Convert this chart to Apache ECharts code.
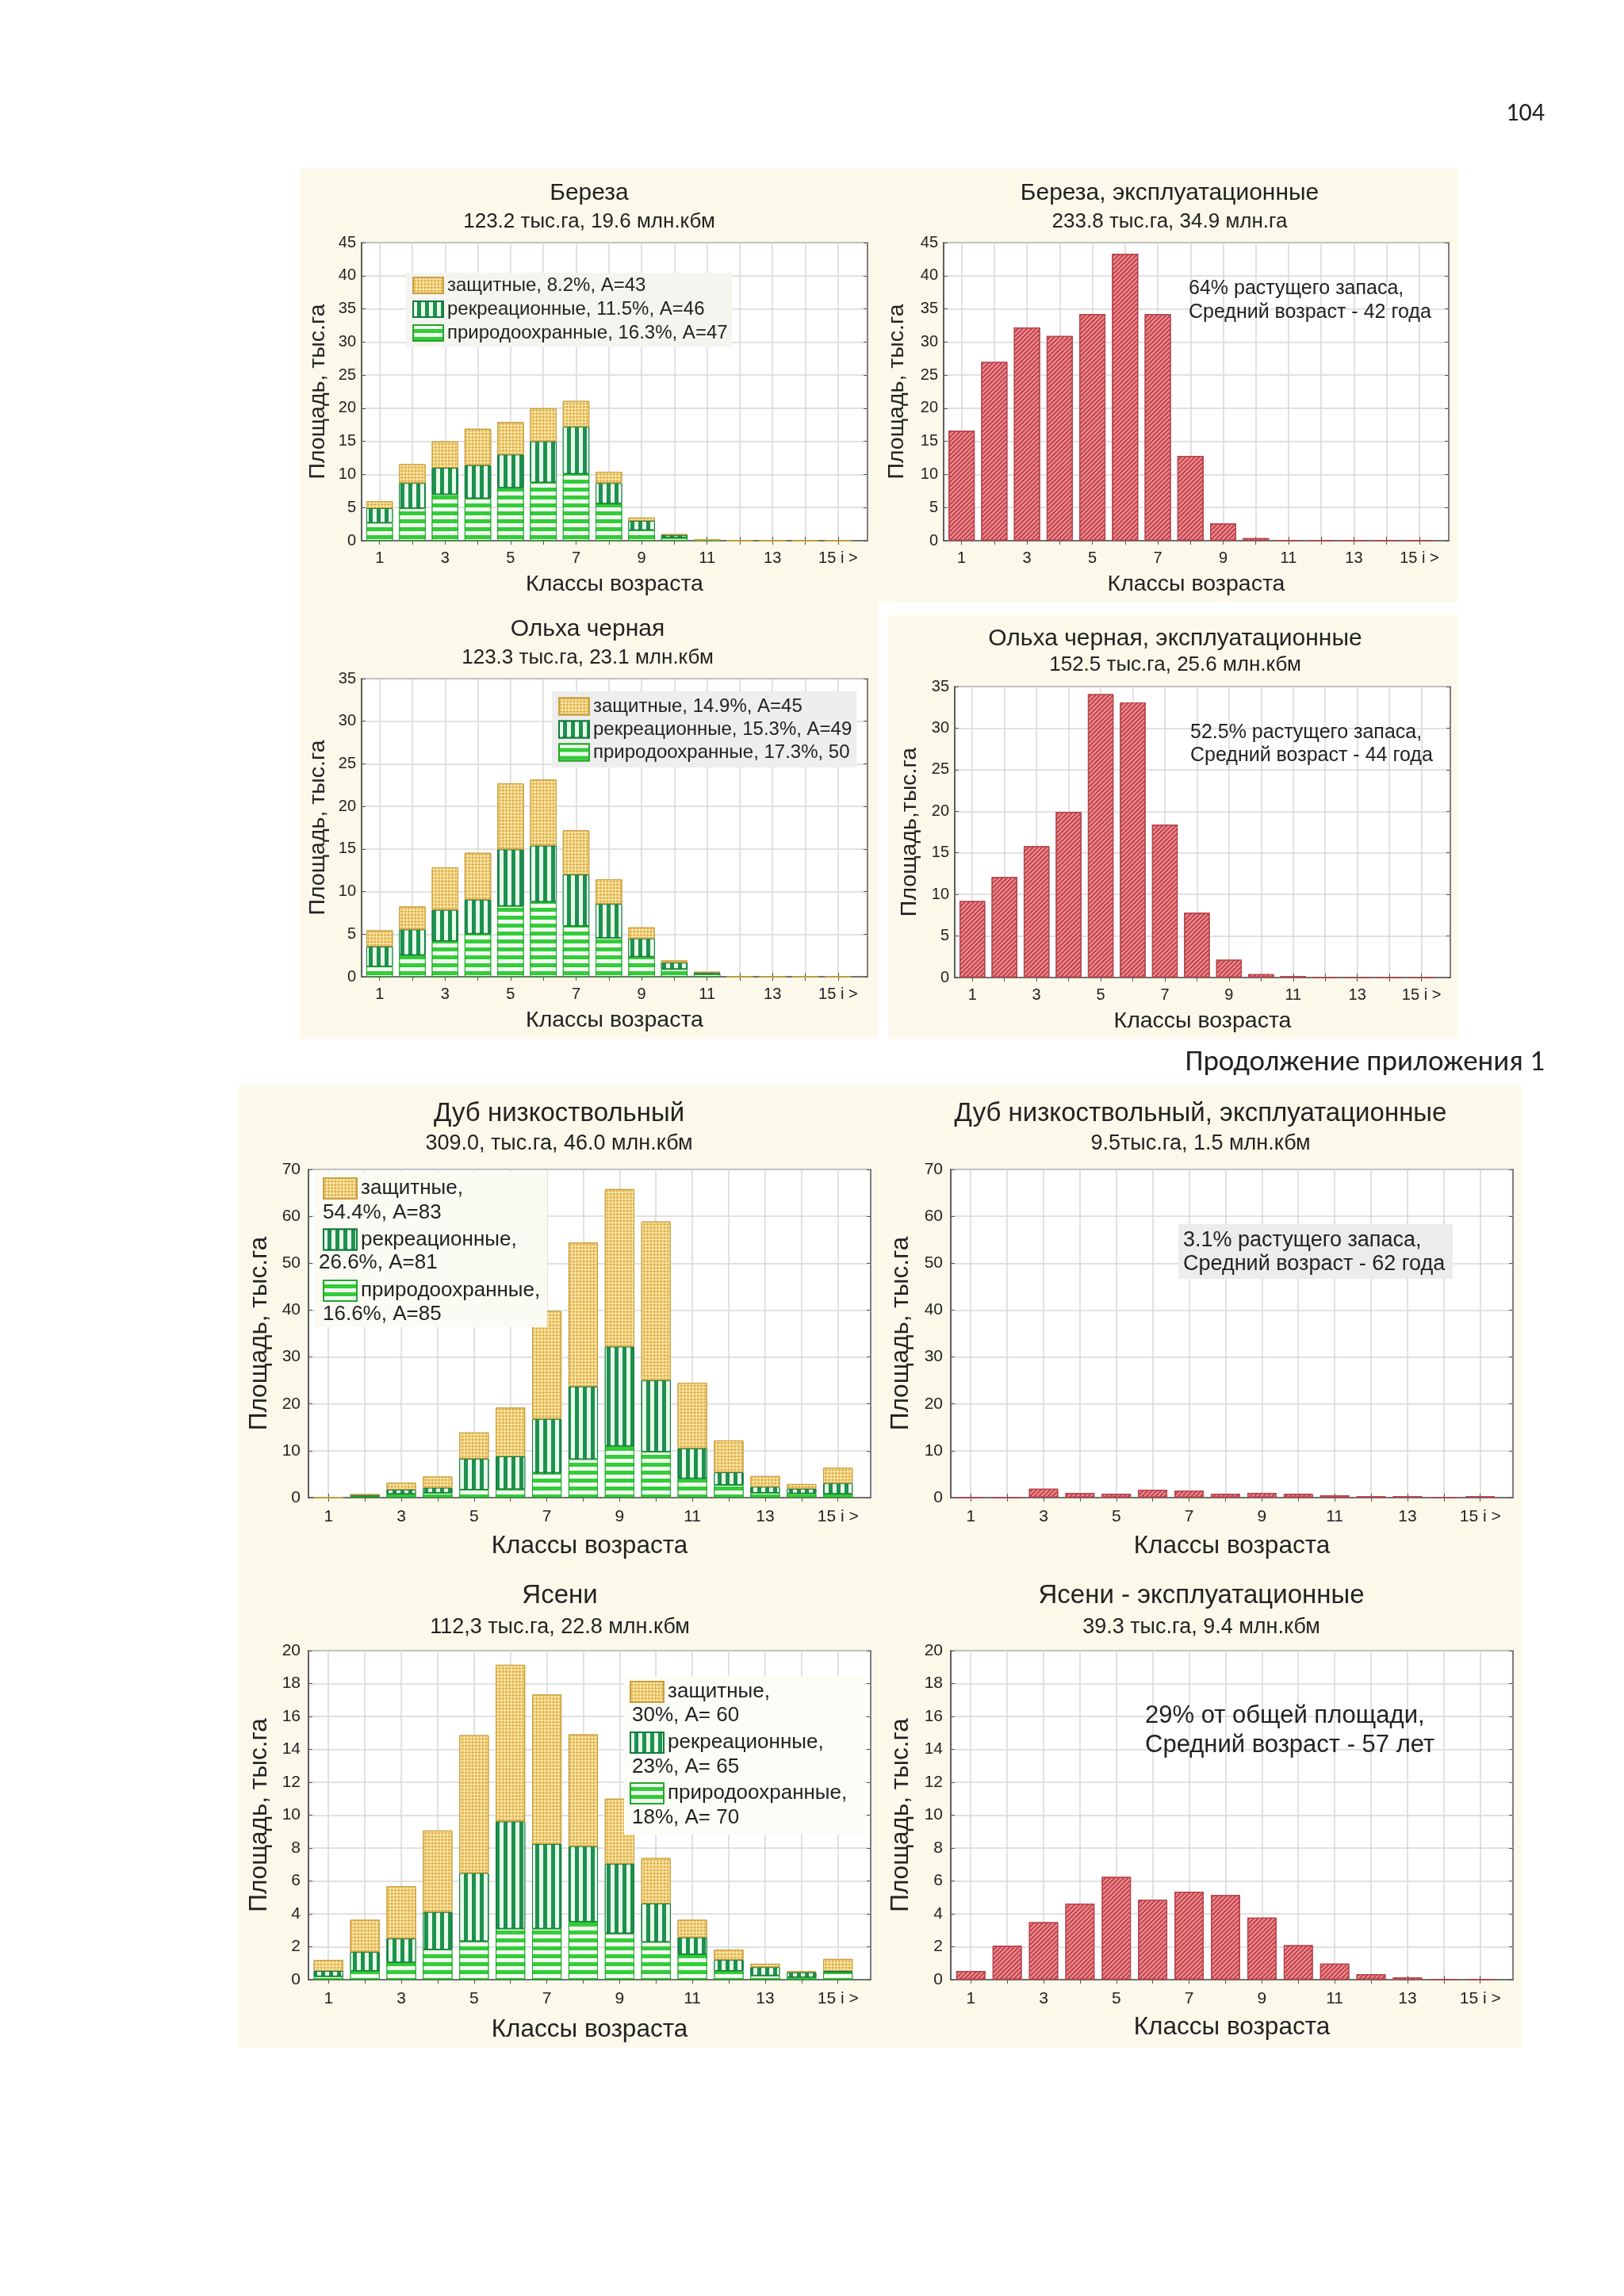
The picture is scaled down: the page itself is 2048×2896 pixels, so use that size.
<!DOCTYPE html>
<html>
<head>
<meta charset="utf-8">
<script src="https://cdn.jsdelivr.net/npm/echarts@6/dist/echarts.min.js"></script>
<style>
html,body{margin:0;padding:0;background:#ffffff;}
#c{width:2048px;height:2896px;}
</style>
</head>
<body>
<div id="c"></div>
<script>
// ---------------- DATA ----------------
const ageClasses = [1,2,3,4,5,6,7,8,9,10,11,12,13,14,15];
const ageLabelValues = [1,3,5,7,9,11,13,15];
const lastClassLabel = '15 i >';
const xAxisTitle = 'Классы возраста';
const yAxisTitle = 'Площадь, тыс.га';
const yAxisTitleNoSpace = 'Площадь,тыс.га';

// Береза (stacked)
const berezaNature   = [2.7, 4.9, 7.0, 6.4, 8.0, 8.8, 10.1, 5.6, 1.6, 0.5, 0.05, 0, 0, 0, 0];
const berezaRecreate = [2.2, 3.8, 4.0, 5.0, 5.0, 6.2, 7.1, 3.1, 1.4, 0.35, 0.05, 0, 0, 0, 0];
const berezaProtect  = [1.05, 2.85, 4.0, 5.5, 4.9, 5.0, 3.9, 1.7, 0.5, 0.15, 0.05, 0, 0, 0, 0];
const berezaNames = ['защитные, 8.2%, A=43', 'рекреационные, 11.5%, A=46', 'природоохранные, 16.3%, A=47'];

// Береза, эксплуатационные
const berezaExpl = [16.6, 27.0, 32.2, 30.9, 34.2, 43.3, 34.2, 12.8, 2.6, 0.4, 0, 0, 0, 0, 0];

// Ольха черная (stacked)
const olkhaNature   = [1.2, 2.55, 4.2, 5.05, 8.3, 8.8, 5.95, 4.55, 2.35, 0.9, 0.33, 0, 0, 0, 0];
const olkhaRecreate = [2.35, 3.0, 3.65, 4.0, 6.65, 6.6, 6.05, 4.0, 2.15, 0.75, 0.17, 0, 0, 0, 0];
const olkhaProtect  = [1.9, 2.7, 5.0, 5.5, 7.75, 7.75, 5.2, 2.9, 1.3, 0.27, 0.07, 0, 0, 0, 0];
const olkhaNames = ['защитные, 14.9%, A=45', 'рекреационные, 15.3%, A=49', 'природоохранные, 17.3%, 50'];

// Ольха черная, эксплуатационные
const olkhaExpl = [9.2, 12.1, 15.8, 19.9, 34.1, 33.1, 18.4, 7.8, 2.15, 0.4, 0.17, 0, 0, 0, 0];

// Дуб низкоствольный (stacked)
const dubNature   = [0, 0.3, 0.8, 1.0, 1.7, 1.8, 5.3, 8.2, 11.0, 9.8, 4.1, 2.7, 1.0, 0.9, 0.8];
const dubRecreate = [0, 0.3, 0.9, 1.1, 6.6, 7.0, 11.5, 15.5, 21.2, 15.2, 6.4, 2.7, 1.3, 1.0, 2.3];
const dubProtect  = [0, 0.1, 1.5, 2.4, 5.6, 10.4, 23.0, 30.7, 33.6, 33.9, 14.0, 6.8, 2.3, 1.0, 3.3];
const dubNames = ['защитные, ', 'рекреационные, ', 'природоохранные, '];
const dubNames2 = ['54.4%, A=83', '26.6%, A=81', '16.6%, A=85'];

// Дуб низкоствольный, эксплуатационные
const dubExpl = [0, 0, 1.9, 1.0, 0.8, 1.7, 1.5, 0.8, 1.0, 0.8, 0.5, 0.3, 0.3, 0, 0.3];

// Ясени (stacked)
const yasenNature   = [0.2, 0.53, 1.05, 1.83, 2.34, 3.1, 3.1, 3.52, 2.82, 2.29, 1.54, 0.53, 0.25, 0.15, 0.45];
const yasenRecreate = [0.33, 1.15, 1.45, 2.28, 4.14, 6.52, 5.15, 4.59, 4.23, 2.34, 1.03, 0.67, 0.51, 0.29, 0.08];
const yasenProtect  = [0.67, 1.96, 3.18, 4.96, 8.38, 9.52, 9.08, 6.8, 3.95, 2.76, 1.07, 0.63, 0.21, 0.09, 0.73];
const yasenNames = ['защитные,', 'рекреационные,', 'природоохранные,'];
const yasenNames2 = ['30%, A= 60', '23%, A= 65', '18%, A= 70'];

// Ясени - эксплуатационные
const yasenExpl = [0.53, 2.06, 3.49, 4.63, 6.25, 4.86, 5.35, 5.14, 3.77, 2.1, 0.97, 0.34, 0.15, 0, 0];

// ---------------- STYLE ----------------
const FONT = '"Liberation Sans", Arial, sans-serif';
const PAGEFONT = '"Carlito", Lato, "Liberation Sans", sans-serif';
const TXT = '#222222';
const X_MIN = 0.45, X_MAX = 15.9;

const decalProtect = { symbol: 'rect', symbolSize: 0.9, color: '#dcaa45',
  dashArrayX: [[3, 3], [0, 3, 3, 0]], dashArrayY: [3, 0], rotation: Math.PI / 4 };
const decalRecreate = { symbol: 'rect', symbolSize: 1, color: '#e9fbe9',
  dashArrayX: [4.5, 4.5], dashArrayY: [1, 0], rotation: 0 };
const decalNature = { symbol: 'rect', symbolSize: 1, color: '#f2fff0',
  dashArrayX: [1, 0], dashArrayY: [4.5, 4.5], rotation: 0 };
const decalRed = { symbol: 'rect', symbolSize: 1, color: '#c0404a',
  dashArrayX: [1, 0], dashArrayY: [1.4, 1.8], rotation: -Math.PI / 4 };

const styleProtect  = { color: '#fbe7a4', borderColor: '#c9a040', borderWidth: 1, decal: decalProtect };
const styleRecreate = { color: '#1e9150', borderColor: '#137a3e', borderWidth: 1, decal: decalRecreate };
const styleNature   = { color: '#34cc3a', borderColor: '#22a52a', borderWidth: 1, decal: decalNature };
const styleRed      = { color: '#ee9294', borderColor: '#b5414b', borderWidth: 1.2, decal: decalRed };

// ---------------- LAYOUT ----------------
const panels = [
  { g: { left: 456, top: 306, width: 638, height: 376 }, yMax: 45, yInt: 5, yName: yAxisTitle,
    yGap: 40.5, xGap: 41, af: 20, nf: 28.5, lm: 12, ym: 7 },
  { g: { left: 1190, top: 306, width: 637, height: 376 }, yMax: 45, yInt: 5, yName: yAxisTitle,
    yGap: 44.5, xGap: 41, af: 20, nf: 28.5, lm: 12, ym: 7 },
  { g: { left: 456, top: 856, width: 638, height: 376 }, yMax: 35, yInt: 5, yName: yAxisTitle,
    yGap: 40.5, xGap: 41, af: 20, nf: 28.5, lm: 12, ym: 7 },
  { g: { left: 1204, top: 866, width: 625, height: 367 }, yMax: 35, yInt: 5, yName: yAxisTitleNoSpace,
    yGap: 42.5, xGap: 41, af: 20, nf: 28.5, lm: 12, ym: 7 },
  { g: { left: 389, top: 1475, width: 709, height: 414 }, yMax: 70, yInt: 10, yName: yAxisTitle,
    yGap: 46, xGap: 45, af: 21, nf: 31.5, lm: 14, ym: 10 },
  { g: { left: 1199, top: 1475, width: 709, height: 414 }, yMax: 70, yInt: 10, yName: yAxisTitle,
    yGap: 47, xGap: 45, af: 21, nf: 31.5, lm: 14, ym: 10 },
  { g: { left: 389, top: 2082, width: 709, height: 415 }, yMax: 20, yInt: 2, yName: yAxisTitle,
    yGap: 46, xGap: 47, af: 21, nf: 31.5, lm: 14, ym: 10 },
  { g: { left: 1199, top: 2082, width: 709, height: 415 }, yMax: 20, yInt: 2, yName: yAxisTitle,
    yGap: 47, xGap: 44, af: 21, nf: 31.5, lm: 14, ym: 10 }
];

const grids = [], xAxes = [], yAxes = [], series = [];
const barAxisIndex = [];
panels.forEach((p, i) => {
  // display grid (frame, grid lines, tick labels, axis titles)
  const gDisp = grids.length;
  grids.push(Object.assign({ show: true, backgroundColor: '#ffffff', borderColor: '#555555', borderWidth: 1.5 }, p.g));
  xAxes.push({
    type: 'value', gridIndex: gDisp, min: X_MIN, max: X_MAX,
    axisLine: { show: true, onZero: false, lineStyle: { color: '#555555', width: 1.5 } },
    axisTick: { show: true, inside: true, length: 5, customValues: ageClasses, lineStyle: { color: '#555555' } },
    axisLabel: { customValues: ageLabelValues, formatter: v => (v === 15 ? lastClassLabel : String(v)),
      fontSize: p.af, color: TXT, fontFamily: FONT, margin: p.lm },
    splitLine: { show: true, lineStyle: { color: '#d7d7d7', width: 1.5 } },
    name: xAxisTitle, nameLocation: 'middle', nameGap: p.xGap,
    nameTextStyle: { fontSize: p.nf, color: TXT, fontFamily: FONT }
  });
  yAxes.push({
    type: 'value', gridIndex: gDisp, min: 0, max: p.yMax, interval: p.yInt,
    axisLine: { show: true, lineStyle: { color: '#555555', width: 1.5 } },
    axisTick: { show: true, inside: true, length: 5, lineStyle: { color: '#555555' } },
    axisLabel: { fontSize: p.af, color: TXT, fontFamily: FONT, margin: p.ym },
    splitLine: { show: true, lineStyle: { color: '#d7d7d7', width: 1.5 } },
    name: p.yName, nameLocation: 'middle', nameGap: p.yGap, nameRotate: 90,
    nameTextStyle: { fontSize: p.nf, color: TXT, fontFamily: FONT }
  });
  // mirror ticks on the top and right frame edges
  xAxes.push({
    type: 'value', gridIndex: gDisp, position: 'top', min: X_MIN, max: X_MAX,
    axisLine: { show: false },
    axisTick: { show: true, inside: true, length: 5, customValues: ageClasses, lineStyle: { color: '#555555' } },
    axisLabel: { show: false }, splitLine: { show: false }
  });
  yAxes.push({
    type: 'value', gridIndex: gDisp, position: 'right', min: 0, max: p.yMax, interval: p.yInt,
    axisLine: { show: false },
    axisTick: { show: true, inside: true, length: 5, lineStyle: { color: '#555555' } },
    axisLabel: { show: false }, splitLine: { show: false }
  });
  // bar grid: category bands aligned with classes 1..15 of the display axis
  const unit = p.g.width / (X_MAX - X_MIN);
  const gBar = grids.length;
  grids.push({ show: false, left: p.g.left + (0.5 - X_MIN) * unit, width: ageClasses.length * unit,
    top: p.g.top, height: p.g.height });
  barAxisIndex.push(xAxes.length);
  xAxes.push({ type: 'category', gridIndex: gBar, data: ageClasses.map(String), boundaryGap: true, show: false });
  yAxes.push({ type: 'value', gridIndex: gBar, min: 0, max: p.yMax, interval: p.yInt, show: false,
    splitLine: { show: false } });
});

function stacked(i, names, nature, recreate, protect) {
  const ax = barAxisIndex[i], stackId = 'st' + i;
  series.push({ type: 'bar', name: names[2], xAxisIndex: ax, yAxisIndex: ax, stack: stackId, barWidth: '81%',
    itemStyle: styleNature, data: nature.slice(), z: 2 });
  series.push({ type: 'bar', name: names[1], xAxisIndex: ax, yAxisIndex: ax, stack: stackId, barWidth: '81%',
    itemStyle: styleRecreate, data: recreate.slice(), z: 2 });
  series.push({ type: 'bar', name: names[0], xAxisIndex: ax, yAxisIndex: ax, stack: stackId, barWidth: '81%',
    itemStyle: styleProtect, data: protect.slice(), z: 2 });
}
function single(i, name, vals) {
  const ax = barAxisIndex[i];
  series.push({ type: 'bar', name: name, xAxisIndex: ax, yAxisIndex: ax, barWidth: '80%',
    itemStyle: styleRed, data: vals.slice(), z: 2 });
}

stacked(0, berezaNames, berezaNature, berezaRecreate, berezaProtect);
single(1, 'Береза, эксплуатационные', berezaExpl);
stacked(2, olkhaNames, olkhaNature, olkhaRecreate, olkhaProtect);
single(3, 'Ольха черная, эксплуатационные', olkhaExpl);
stacked(4, dubNames, dubNature, dubRecreate, dubProtect);
single(5, 'Дуб низкоствольный, эксплуатационные', dubExpl);
stacked(6, yasenNames, yasenNature, yasenRecreate, yasenProtect);
single(7, 'Ясени - эксплуатационные', yasenExpl);

// ---------------- TITLES ----------------
function ttl(text, sub, cx, top, tf, sf, gap) {
  return { text: text, subtext: sub, left: cx, top: top, textAlign: 'center', padding: 0, itemGap: gap,
    textStyle: { fontSize: tf, lineHeight: tf, fontWeight: 'normal', color: TXT, fontFamily: FONT },
    subtextStyle: { fontSize: sf, lineHeight: sf, color: TXT, fontFamily: FONT } };
}
const titles = [
  ttl('Береза', '123.2 тыс.га, 19.6 млн.кбм', 743, 229, 30, 26, 8),
  ttl('Береза, эксплуатационные', '233.8 тыс.га, 34.9 млн.га', 1475, 229, 30, 26, 8),
  ttl('Ольха черная', '123.3 тыс.га, 23.1 млн.кбм', 741, 779, 30, 26, 8),
  ttl('Ольха черная, эксплуатационные', '152.5 тыс.га, 25.6 млн.кбм', 1482, 791, 30, 26, 5),
  ttl('Дуб низкоствольный', '309.0, тыс.га, 46.0 млн.кбм', 705, 1388.5, 33, 27, 8),
  ttl('Дуб низкоствольный, эксплуатационные', '9.5тыс.га, 1.5 млн.кбм', 1514, 1388.5, 33, 27, 8),
  ttl('Ясени', '112,3 тыс.га, 22.8 млн.кбм', 706, 1996.5, 33, 27, 10),
  ttl('Ясени - эксплуатационные', '39.3 тыс.га, 9.4 млн.кбм', 1515, 1996.5, 33, 27, 10)
];

// ---------------- LEGENDS ----------------
function legendBox(names, left, top, bg, pad, iw, ih, gap, fs) {
  return { orient: 'vertical', left: left, top: top, data: names.slice(), padding: pad, backgroundColor: bg,
    icon: 'rect', itemWidth: iw, itemHeight: ih, itemGap: gap, selectedMode: false, z: 20,
    textStyle: { fontSize: fs, lineHeight: ih, color: TXT, fontFamily: FONT } };
}
const legends = [
  legendBox(berezaNames, 512, 344, '#f5f5ef', [4, 6, 6, 8], 38, 20, 6, 24),
  legendBox(olkhaNames, 696, 872, '#eeeeee', [7, 6, 7, 8], 38, 21, 5, 24),
  legendBox(dubNames, 407, 1485, 'transparent', 0, 42, 26, 36.5, 26),
  legendBox(yasenNames, 794, 2120, 'transparent', 0, 42, 26, 36, 26)
];

// ---------------- GRAPHICS ----------------
const panelFill = '#fcf9ea';
function rect(x, y, w, h, fill, z) { return { type: 'rect', shape: { x: x, y: y, width: w, height: h }, style: { fill: fill }, z: z, silent: true }; }
function txt(x, y, s, fs, align, z, family) {
  return { type: 'text', x: x, y: y, z: z || 30, silent: true,
    style: { text: s, fontSize: fs, fill: TXT, fontFamily: family || FONT, align: align || 'left', verticalAlign: 'middle' } };
}
const graphics = [
  rect(378, 212, 1461, 548, panelFill, -100),
  rect(378, 760, 729, 550, panelFill, -100),
  rect(1120, 776, 719, 534, panelFill, -100),
  rect(301, 1369, 1618, 1214, panelFill, -100),
  rect(397, 1478, 293, 196, '#fbfaf3', 10),
  rect(787, 2114, 303, 200, '#fdfdf8', 10),
  rect(1486, 1544, 346, 69, '#ececec', 10),
  txt(1948, 144, '104', 32, 'right', 30, PAGEFONT),
  txt(1948, 1341, 'Продолжение приложения 1', 37, 'right', 30, PAGEFONT),
  txt(407, 1530, dubNames2[0], 26), txt(402, 1593, dubNames2[1], 26), txt(407, 1658, dubNames2[2], 26),
  txt(797, 2164, yasenNames2[0], 26), txt(797, 2229, yasenNames2[1], 26), txt(797, 2293, yasenNames2[2], 26),
  txt(1499, 364, '64% растущего запаса,', 25), txt(1499, 394, 'Средний возраст - 42 года', 25),
  txt(1501, 924, '52.5% растущего запаса,', 25), txt(1501, 953, 'Средний возраст - 44 года', 25),
  txt(1492, 1565, '3.1% растущего запаса,', 27), txt(1492, 1595, 'Средний возраст - 62 года', 27),
  txt(1444, 2164, '29% от общей площади,', 31), txt(1444, 2201, 'Средний возраст - 57 лет', 31)
];

const chart = echarts.init(document.getElementById('c'), null, { renderer: 'canvas', width: 2048, height: 2896 });
chart.setOption({
  backgroundColor: '#ffffff',
  animation: false,
  title: titles,
  legend: legends,
  grid: grids,
  xAxis: xAxes,
  yAxis: yAxes,
  series: series,
  graphic: { elements: graphics }
});
</script>
</body>
</html>
